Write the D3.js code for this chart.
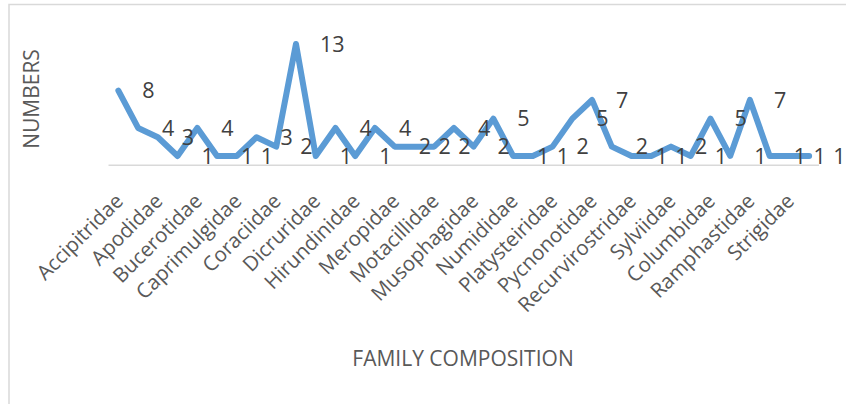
<!DOCTYPE html>
<html>
<head>
<meta charset="utf-8">
<script src="https://cdn.jsdelivr.net/npm/d3@7"></script>
<style>
  body { margin: 0; background: #fff; }
  svg { display: block; font-family: 'Open Sans', sans-serif; }
</style>
</head>
<body>
<div id="chart"></div>
<script>
// every second family is labelled on the axis
const families = ['Accipitridae', 'Apodidae', 'Bucerotidae', 'Caprimulgidae', 'Coraciidae',
    'Dicruridae', 'Hirundinidae', 'Meropidae', 'Motacillidae', 'Musophagidae', 'Numididae',
    'Platysteiridae', 'Pycnonotidae', 'Recurvirostridae', 'Sylviidae', 'Columbidae',
    'Ramphastidae', 'Strigidae']
const numbers = [8, 4, 3, 1, 4, 1, 1, 3, 2, 13, 1, 4, 1, 4, 2, 2, 2, 4, 2, 5, 1, 1, 2, 5,
    7, 2, 1, 1, 2, 1, 5, 1, 7, 1, 1, 1]
const yMax = 14

const width = 846, height = 404
const plot = {left: 108.5, right: 819, top: 34.6, bottom: 165.3}

const svg = d3.select('#chart').append('svg')
    .attr('width', width)
    .attr('height', height)

// chart frame (cropped on right and bottom)
svg.append('rect')
    .attr('x', 9).attr('y', 4.5)
    .attr('width', 860).attr('height', 420)
    .attr('fill', 'none')
    .attr('stroke', '#d9d9d9')
    .attr('stroke-width', 1.5)

const x = d3.scaleBand()
    .domain(d3.range(numbers.length))
    .range([plot.left, plot.right])
const cx = i => x(i) + x.bandwidth() / 2

const y = d3.scaleLinear()
    .domain([0, yMax])
    .range([plot.bottom, plot.top])

// category axis
svg.append('line')
    .attr('x1', plot.left).attr('x2', plot.right)
    .attr('y1', y(0)).attr('y2', y(0))
    .attr('stroke', '#d9d9d9')
    .attr('stroke-width', 1.5)

svg.append('g').attr('class', 'xlabels')
    .selectAll('text').data(families).join('text')
    .attr('transform', (d, i) => `translate(${cx(i * 2) + 6},${y(0) + 37}) rotate(-45)`)
    .attr('text-anchor', 'end')
    .attr('fill', '#595959')
    .style('font-size', '20.5px')
    .text(d => d)

// the line
const line = d3.line()
    .x((d, i) => cx(i))
    .y(d => y(d))

svg.append('path')
    .datum(numbers)
    .attr('d', line)
    .attr('fill', 'none')
    .attr('stroke', '#5b9bd5')
    .attr('stroke-width', 6)
    .attr('stroke-linejoin', 'round')
    .attr('stroke-linecap', 'round')

// data labels, placed right of each point
svg.append('g').attr('class', 'dlabels')
    .selectAll('text').data(numbers).join('text')
    .attr('x', (d, i) => cx(i) + 24)
    .attr('y', d => y(d))
    .attr('dy', '0.36em')
    .attr('fill', '#404040')
    .style('font-size', '21.5px')
    .text(d => d)

// axis titles
svg.append('text')
    .attr('x', 463).attr('y', 358)
    .attr('dy', '0.36em')
    .attr('text-anchor', 'middle')
    .attr('fill', '#595959')
    .style('font-size', '21px')
    .text('FAMILY COMPOSITION')

svg.append('text')
    .attr('transform', 'translate(31,99) rotate(-90)')
    .attr('dy', '0.36em')
    .attr('text-anchor', 'middle')
    .attr('fill', '#595959')
    .style('font-size', '21px')
    .text('NUMBERS')
</script>
</body>
</html>
